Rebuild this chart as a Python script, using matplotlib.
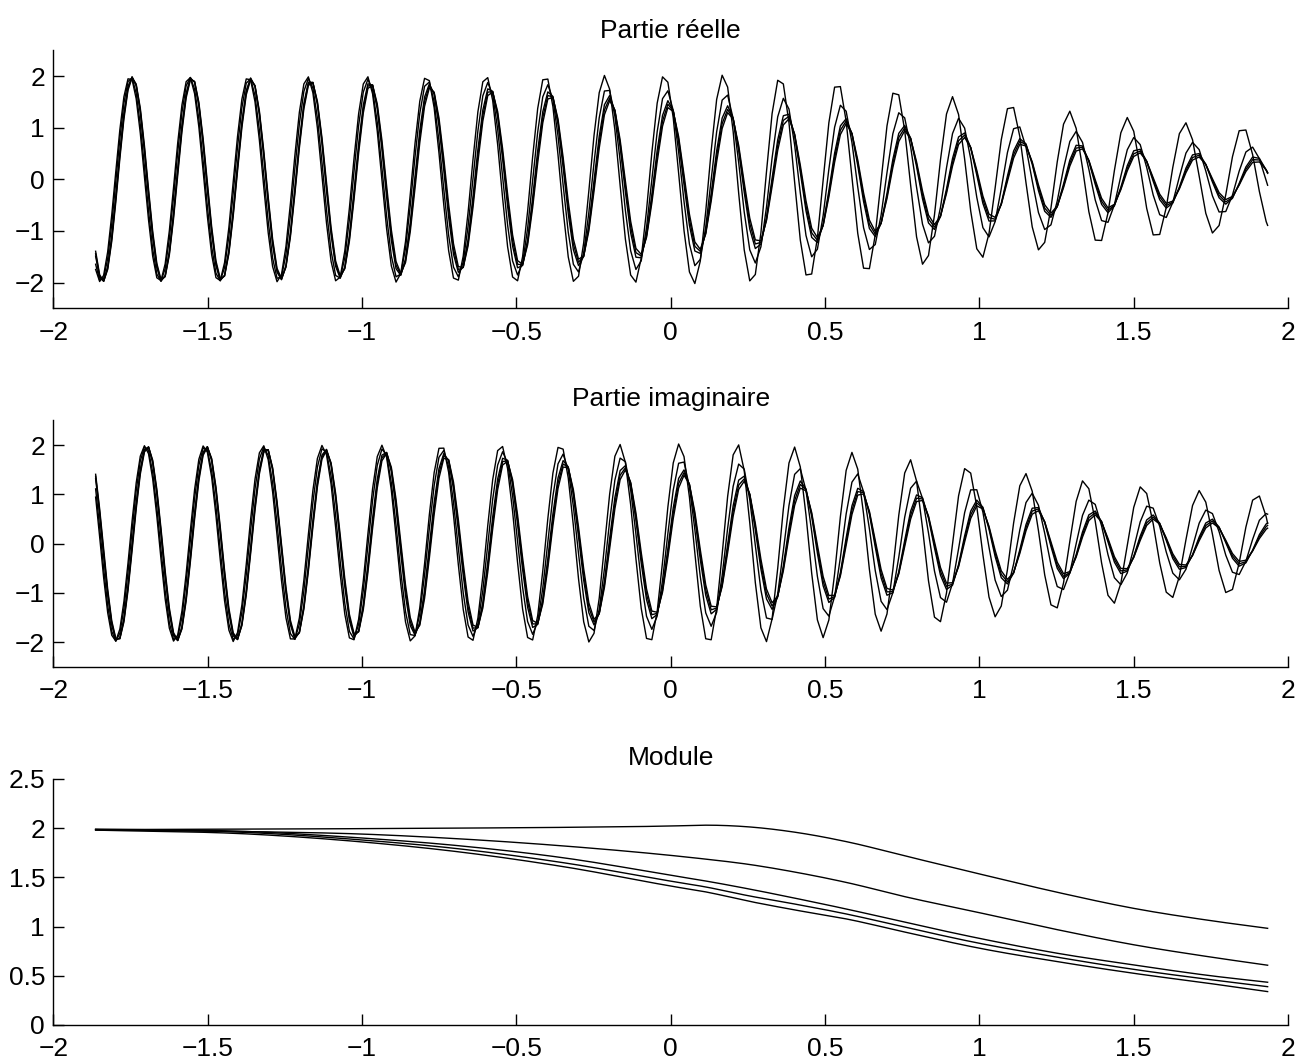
import numpy as np
import matplotlib.pyplot as plt

plt.rcParams['font.family'] = ['Liberation Sans', 'DejaVu Sans']
plt.rcParams['font.size'] = 19

# sample grid of the curves: step grows from left to right
X_START = -1.863
X_END = 1.934
STEP_LEFT = 0.013
STEP_RIGHT = 0.022

# module of each curve, read at knot abscissas
mod_knots = [-1.863, -1.363, -1.0, -0.715, -0.35, 0.041, 0.1, 0.257, 0.4, 0.581, 0.75, 1.0, 1.25, 1.5, 1.75, 1.934]
mod_c1 = [1.985, 1.99, 1.995, 2.0, 2.008, 2.025, 2.03, 2.012, 1.96, 1.855, 1.725, 1.535, 1.35, 1.185, 1.06, 0.982]
mod_c2 = [1.985, 1.965, 1.94, 1.897, 1.82, 1.71, 1.69, 1.63, 1.555, 1.44, 1.31, 1.141, 0.97, 0.815, 0.69, 0.607]
mod_c3 = [1.99, 1.965, 1.90, 1.83, 1.70, 1.50, 1.47, 1.38, 1.29, 1.17, 1.05, 0.88, 0.73, 0.61, 0.50, 0.434]
mod_c4 = [1.985, 1.955, 1.88, 1.80, 1.65, 1.44, 1.41, 1.31, 1.23, 1.12, 1.00, 0.83, 0.69, 0.565, 0.46, 0.389]
mod_c5 = [1.98, 1.94, 1.86, 1.77, 1.61, 1.39, 1.36, 1.255, 1.17, 1.07, 0.95, 0.78, 0.645, 0.525, 0.42, 0.339]

# wave: first crest of the real part and wavelength
crest_x = -1.746
wavelength = 0.1918

# shift of the crests of each curve (in x), read at knot abscissas
shift_knots = [-1.863, -1.55, -1.17, -0.8, -0.6, -0.2, 0.17, 0.37, 0.56, 0.75, 0.95, 1.13, 1.32, 1.51, 1.70, 1.934]
shift_c1 = [-0.006, -0.006, -0.006, -0.004, -0.003, -0.002, -0.002, -0.010, -0.015, -0.019, -0.027, -0.029, -0.031, -0.035, -0.040, -0.047]
shift_c2 = [-0.003, -0.003, -0.002, 0.0, 0.003, 0.006, 0.007, 0.004, 0.0, -0.002, -0.004, -0.008, -0.009, -0.011, -0.013, -0.018]
shift_c3 = [0.001, 0.002, 0.004, 0.006, 0.009, 0.012, 0.013, 0.012, 0.010, 0.009, 0.008, 0.005, 0.001, -0.001, -0.002, -0.004]
shift_c4 = [0.002, 0.003, 0.005, 0.008, 0.011, 0.014, 0.015, 0.014, 0.012, 0.011, 0.010, 0.007, 0.003, 0.001, 0.0, -0.002]
shift_c5 = [0.003, 0.004, 0.006, 0.010, 0.013, 0.016, 0.017, 0.016, 0.014, 0.013, 0.012, 0.009, 0.005, 0.003, 0.002, 0.0]

modules = [mod_c1, mod_c2, mod_c3, mod_c4, mod_c5]
shifts = [shift_c1, shift_c2, shift_c3, shift_c4, shift_c5]


def smooth_through(xq, xk, yk):
    # cubic hermite curve through the knots
    xk = np.asarray(xk, float)
    yk = np.asarray(yk, float)
    dk = np.gradient(yk, xk)
    i = np.clip(np.searchsorted(xk, xq) - 1, 0, len(xk) - 2)
    h = xk[i + 1] - xk[i]
    t = (xq - xk[i]) / h
    h00 = 2 * t**3 - 3 * t**2 + 1
    h10 = t**3 - 2 * t**2 + t
    h01 = -2 * t**3 + 3 * t**2
    h11 = t**3 - t**2
    return h00 * yk[i] + h10 * h * dk[i] + h01 * yk[i + 1] + h11 * h * dk[i + 1]


x = [X_START]
while x[-1] < X_END:
    frac = (x[-1] - X_START) / (X_END - X_START)
    x.append(x[-1] + STEP_LEFT + (STEP_RIGHT - STEP_LEFT) * frac)
x = np.array(x)
x[-1] = X_END

k = 2 * np.pi / wavelength

curves = []
for m, s in zip(modules, shifts):
    amp = smooth_through(x, mod_knots, m)
    sh = smooth_through(x, shift_knots, s)
    z = amp * np.exp(1j * k * (x - crest_x - sh))
    curves.append(z)

fig = plt.figure(figsize=(13.01, 10.64), dpi=100)
ax1 = fig.add_axes([0.041, 0.7102, 0.949, 0.2426])
ax2 = fig.add_axes([0.041, 0.3734, 0.949, 0.2315])
ax3 = fig.add_axes([0.041, 0.0367, 0.949, 0.2312])

for z in curves:
    ax1.plot(x, z.real, color='black', lw=1.0)
    ax2.plot(x, z.imag, color='black', lw=1.0)
    ax3.plot(x, np.abs(z), color='black', lw=1.0)

ax1.set_title('Partie réelle', fontsize=19, pad=9)
ax2.set_title('Partie imaginaire', fontsize=19, pad=10)
ax3.set_title('Module', fontsize=19, pad=10)

for ax in (ax1, ax2):
    ax.set_ylim(-2.5, 2.5)
    ax.set_yticks([-2, -1, 0, 1, 2])
    ax.set_yticklabels(['\u22122', '\u22121', '0', '1', '2'])
ax3.set_ylim(0, 2.5)
ax3.set_yticks([0, 0.5, 1, 1.5, 2, 2.5])
ax3.set_yticklabels(['0', '0.5', '1', '1.5', '2', '2.5'])

for ax in (ax1, ax2, ax3):
    ax.set_xlim(-2, 2)
    ax.set_xticks([-2, -1.5, -1, -0.5, 0, 0.5, 1, 1.5, 2])
    ax.set_xticklabels(['\u22122', '\u22121.5', '\u22121', '\u22120.5', '0', '0.5', '1', '1.5', '2'])
    ax.spines['top'].set_visible(False)
    ax.spines['right'].set_visible(False)
    ax.spines['left'].set_linewidth(1.0)
    ax.spines['bottom'].set_linewidth(1.0)
    ax.tick_params(direction='in', length=8, width=1.0, labelsize=19)
    ax.tick_params(axis='x', pad=9)
    ax.tick_params(axis='y', pad=6)

fig.savefig('out.png', dpi=100)
